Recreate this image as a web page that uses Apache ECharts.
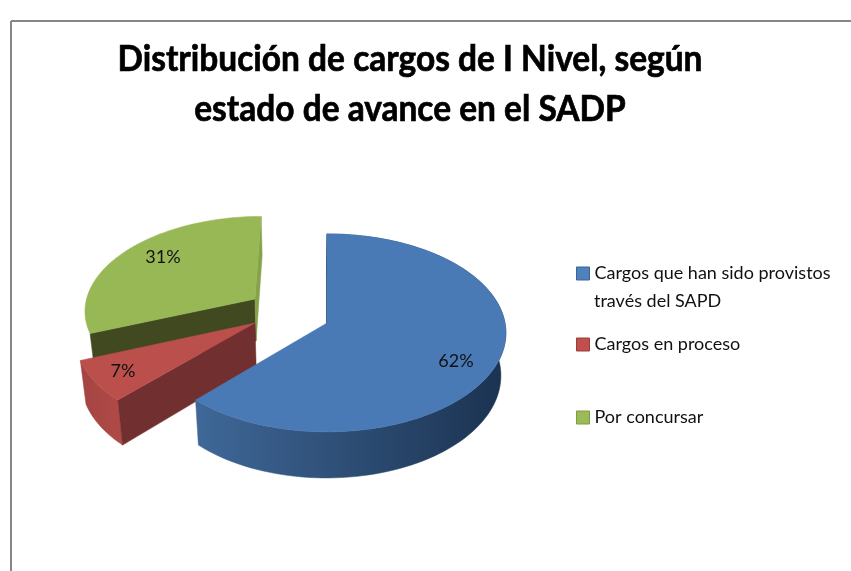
<!DOCTYPE html>
<html>
<head>
<meta charset="utf-8">
<style>
  html, body { margin: 0; padding: 0; background: #fff; }
  #chart { width: 851px; height: 571px; }
</style>
<script src="https://cdn.jsdelivr.net/npm/echarts@6/dist/echarts.min.js"></script>
</head>
<body>
<div id="chart"></div>
<script>
const titleText = "Distribución de cargos de I Nivel, según\nestado de avance en el SADP";
const categories = ["Cargos que han sido provistos\ntravés del SAPD", "Cargos en proceso", "Por concursar"];
const values = [62, 7, 31];
const labels = ["62%", "7%", "31%"];

// look of each slice, same order as categories
const topColors = ["#4a7ab6", "#bb4f4c", "#98b856"];
const legendColors = ["#4f81bd", "#c0504d", "#9bbb59"];
const legendBorders = ["#3a6496", "#9c3f3c", "#7d9a45"];
const legendTops = [260, 331, 404];
const explode = [[0, 0], [-0.405, 0], [-0.415, 0.25]]; // disc units
const shrink = [1, 1, 0.97];
const labelPos = [[456, 361], [123, 371], [163, 257]];

// tilted disc: perspective projection, fitted by eye
const CX = 327, CY = 323, RX = 178, RY = 98, PERSP = 0.1, DEPTH = 43, VX = 290;
const FONT = "Lato";

function project(u, v, low) {
  const s = 1 / (1 + PERSP * v + (low ? 0.01 : 0));
  const x = CX + RX * u * s;
  return [low ? VX + (x - VX) * 0.985 : x, CY + (-RY * v + (low ? DEPTH : 0)) * s];
}

function ringPoint(i, deg, low) {
  const a = deg * Math.PI / 180;
  return project(explode[i][0] + shrink[i] * Math.sin(a), explode[i][1] + shrink[i] * Math.cos(a), low);
}

function sliceAngles(i) {
  const total = values.reduce((a, b) => a + b, 0);
  const before = values.slice(0, i).reduce((a, b) => a + b, 0);
  return [before / total * 360, (before + values[i]) / total * 360];
}

function rim(i, from, to, low) {
  const pts = [];
  const steps = Math.max(2, Math.ceil(Math.abs(to - from) / 2));
  for (let k = 0; k <= steps; k++) pts.push(ringPoint(i, from + (to - from) * k / steps, low));
  return pts;
}

function poly(points, fill, stroke) {
  return { type: "polygon", shape: { points }, style: { fill, stroke: stroke || fill, lineWidth: 0.5 } };
}

function hgrad(from, to) {
  return new echarts.graphic.LinearGradient(0, 0, 1, 0, [{ offset: 0, color: from }, { offset: 1, color: to }]);
}

function apex(i, low) { return project(explode[i][0], explode[i][1], low); }

function radialWall(i, deg, fill) {
  return poly([apex(i, false), ringPoint(i, deg, false), ringPoint(i, deg, true), apex(i, true)], fill);
}

function rimWall(i, from, to, fill) {
  return poly(rim(i, from, to, false).concat(rim(i, to, from, true)), fill);
}

function topFace(i) {
  const [a, b] = sliceAngles(i);
  return poly([apex(i, false)].concat(rim(i, a, b, false)), topColors[i]);
}

function pctLabel(i) {
  return {
    type: "text",
    style: {
      text: labels[i], x: labelPos[i][0], y: labelPos[i][1], align: "center", verticalAlign: "middle",
      font: "18px " + FONT, fill: "#111"
    }
  };
}

const walls = [
  () => {
    const [a, b] = sliceAngles(0);
    return [radialWall(0, a, "#1f3a5e"), rimWall(0, a, b, hgrad("#3f6898", "#1b3250"))];
  },
  () => {
    const [a, b] = sliceAngles(1);
    return [rimWall(1, a, b, hgrad("#a34543", "#b04a47")), radialWall(1, a, "#722f2f")];
  },
  () => {
    const [a, b] = sliceAngles(2);
    return [radialWall(2, a, "#404920"), radialWall(2, b, "#86a24a")];
  }
];

function renderSlice(i) {
  return () => ({ type: "group", children: walls[i]().concat([topFace(i), pctLabel(i)]) });
}

const chart = echarts.init(document.getElementById("chart"));
chart.setOption({
  animation: false,
  legend: categories.map((name, i) => ({
    data: [name], orient: "vertical", left: 576, top: legendTops[i], padding: 0,
    itemWidth: 13, itemHeight: 13, icon: "rect", selectedMode: false,
    itemStyle: { borderColor: legendBorders[i], borderWidth: 1 },
    formatter: n => n.split("\n")[0],
    textStyle: { fontFamily: FONT, fontSize: 18, lineHeight: 27, color: "#111" }
  })),
  graphic: [
    { type: "line", shape: { x1: 11, y1: 21, x2: 851, y2: 21 }, style: { stroke: "#868686", lineWidth: 2 } },
    { type: "line", shape: { x1: 11, y1: 21, x2: 11, y2: 571 }, style: { stroke: "#868686", lineWidth: 2 } },
    // title squeezed a little, the source font is narrower than Lato
    {
      type: "text", x: 410, y: 34, scaleX: 0.93,
      style: { text: titleText, align: "center", verticalAlign: "top", font: "bold 36px " + FONT, lineHeight: 50, fill: "#000", stroke: "#000", lineWidth: 0.7 }
    },
    // second line of the first legend entry hangs under the text, not around the marker
    { type: "text", style: { text: categories[0].split("\n")[1], x: 594, y: 301, verticalAlign: "middle", font: "18px " + FONT, fill: "#111" } }
  ],
  // green first, blue last, so the nearer slices cover the farther ones
  series: [2, 1, 0].map(i => ({
    type: "custom",
    name: categories[i],
    coordinateSystem: "none",
    itemStyle: { color: legendColors[i] },
    data: [values[i]],
    renderItem: renderSlice(i)
  }))
});
</script>
</body>
</html>
